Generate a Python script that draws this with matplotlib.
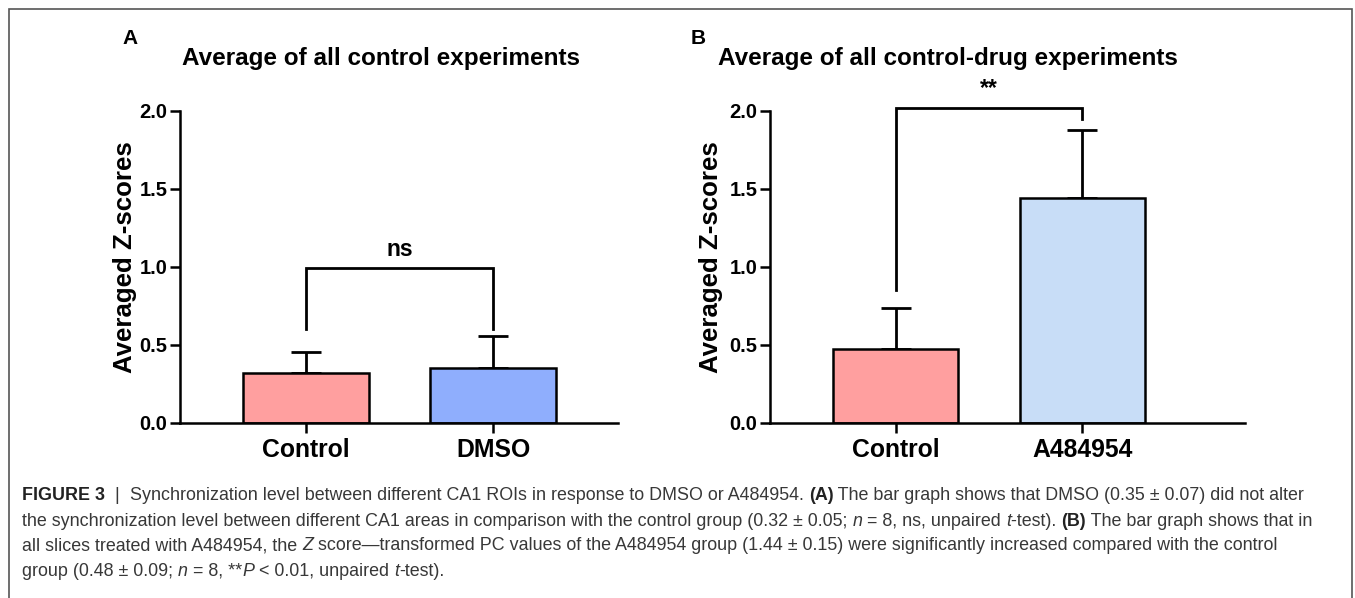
import matplotlib
matplotlib.use('Agg')
import matplotlib.pyplot as plt
from matplotlib.patches import Rectangle

plt.rcParams['font.family'] = ['Liberation Sans', 'DejaVu Sans']

# ---- data
groups_a = ['Control', 'DMSO']
means_a = [0.32, 0.355]
err_a = [0.135, 0.205]
colors_a = ['#FF9F9F', '#8FAEFD']
title_a = 'Average of all control experiments'
sig_a = 'ns'

groups_b = ['Control', 'A484954']
means_b = [0.475, 1.44]
err_b = [0.26, 0.435]
colors_b = ['#FF9F9F', '#C8DDF7']
title_b = 'Average of all control-drug experiments'
sig_b = '**'

yticks = [0.0, 0.5, 1.0, 1.5, 2.0]

caption = [
    [("FIGURE 3", 'bold', 'normal'), ("  |  ", 'normal', 'normal'),
     ("Synchronization level between different CA1 ROIs in response to DMSO or A484954. ", 'normal', 'normal'),
     ("(A)", 'bold', 'normal'),
     (" The bar graph shows that DMSO (0.35 \u00b1 0.07) did not alter", 'normal', 'normal')],
    [("the synchronization level between different CA1 areas in comparison with the control group (0.32 \u00b1 0.05; ", 'normal', 'normal'),
     ("n", 'normal', 'italic'), (" = 8, ns, unpaired ", 'normal', 'normal'), ("t", 'normal', 'italic'),
     ("-test). ", 'normal', 'normal'), ("(B)", 'bold', 'normal'),
     (" The bar graph shows that in", 'normal', 'normal')],
    [("all slices treated with A484954, the ", 'normal', 'normal'), ("Z", 'normal', 'italic'),
     (" score\u2014transformed PC values of the A484954 group (1.44 \u00b1 0.15) were significantly increased compared with the control", 'normal', 'normal')],
    [("group (0.48 \u00b1 0.09; ", 'normal', 'normal'), ("n", 'normal', 'italic'), (" = 8, **", 'normal', 'normal'),
     ("P", 'normal', 'italic'), (" < 0.01, unpaired ", 'normal', 'normal'), ("t", 'normal', 'italic'),
     ("-test).", 'normal', 'normal')],
]

W, H = 1355, 598
fig = plt.figure(figsize=(W / 100, H / 100), dpi=100)

# outer frame
fig.patches.append(Rectangle((9 / W, -0.05), 1343 / W, 1.05 - 9 / H, transform=fig.transFigure,
                             fill=False, edgecolor='#555555', linewidth=1.2))


def panel(rect, groups, means, errs, colors, title, title_x, sig, bracket, xmax, label_x):
    ax = fig.add_axes(rect)
    x = list(range(len(groups)))
    ax.bar(x, means, width=0.67, color=colors, edgecolor='black', linewidth=1.8, zorder=2)
    ax.errorbar(x, means, yerr=[[0] * len(errs), errs], fmt='none', ecolor='black',
                elinewidth=2, capsize=11, capthick=2, zorder=1)
    ax.set_xlim(-0.673, xmax)
    ax.set_ylim(0, 2.0)
    ax.set_yticks(yticks)
    ax.set_yticklabels(['%.1f' % v for v in yticks])
    ax.set_xticks(x)
    ax.set_xticklabels(groups, fontsize=17.8, fontweight='bold')
    for lab in ax.get_yticklabels():
        lab.set_fontsize(14.5)
        lab.set_fontweight('bold')
    ax.tick_params(axis='both', width=1.8, length=7, color='black', pad=2)
    ax.tick_params(axis='x', pad=4)
    for s in ['top', 'right']:
        ax.spines[s].set_visible(False)
    for s in ['left', 'bottom']:
        ax.spines[s].set_linewidth(1.8)
    ax.set_ylabel('Averaged Z-scores', fontsize=18.6, fontweight='bold')
    ax.yaxis.set_label_coords(label_x, 0.53)
    # significance bracket
    y_top, y_left, y_right = bracket
    ax.plot([0, 0, 1, 1], [y_left, y_top, y_top, y_right], color='black', linewidth=2,
            clip_on=False, solid_joinstyle='miter')
    ax.text(0.5, y_top + 0.05, sig, ha='center', va='bottom', fontsize=16.5, fontweight='bold')
    fig.text(title_x / W, 1 - 59 / H, title, fontsize=17.5, fontweight='bold', ha='center', va='center')
    return ax


ax_a = panel([180 / W, 1 - 423 / H, 438 / W, 312.3 / H], groups_a, means_a, err_a,
             colors_a, title_a, 381, sig_a, (0.99, 0.6, 0.6), 1.668, -0.098)
ax_b = panel([770 / W, 1 - 423 / H, 475 / W, 312.3 / H], groups_b, means_b, err_b,
             colors_b, title_b, 948, sig_b, (2.02, 0.85, 1.95), 1.87, -0.099)

fig.text(130 / W, 1 - 39 / H, 'A', fontsize=15, fontweight='bold', ha='center', va='center')
fig.text(698 / W, 1 - 39 / H, 'B', fontsize=15, fontweight='bold', ha='center', va='center')

# caption, drawn piece by piece
renderer = fig.canvas.get_renderer()
y0 = 496
for i, line in enumerate(caption):
    xpos = 22
    for txt, weight, style in line:
        t = fig.text(xpos / W, 1 - (y0 + 25 * i) / H, txt, fontsize=12.85, fontweight=weight,
                     fontstyle=style, color='#383838' if weight == 'normal' else '#222222',
                     va='center', ha='left')
        bb = t.get_window_extent(renderer=renderer)
        xpos += bb.width

fig.savefig('out.png', dpi=100)
